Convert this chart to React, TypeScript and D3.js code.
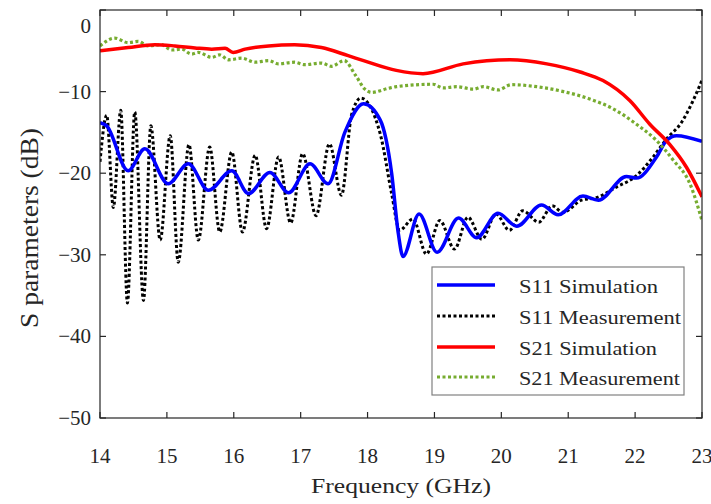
import React from "react";
import * as d3 from "d3";

const xTicks = [14, 15, 16, 17, 18, 19, 20, 21, 22, 23];
const yTicks = [0, -10, -20, -30, -40, -50];

const s11MeasFreq = [14.0, 14.1, 14.2, 14.31, 14.41, 14.52, 14.65, 14.76, 14.9, 15.05, 15.17, 15.33, 15.47, 15.64, 15.79, 15.97, 16.13, 16.32, 16.49, 16.67, 16.85, 17.03, 17.23, 17.43, 17.61, 17.76, 17.9, 18.19, 18.36, 18.48, 18.68, 18.88, 19.08, 19.3, 19.5, 19.71, 19.92, 20.12, 20.32, 20.56, 20.76, 20.92, 21.2, 21.42, 21.72, 22.02, 22.27, 22.47, 22.7, 22.85, 23.0];
const s11MeasVal = [-18.6, -12.9, -24.2, -12.3, -35.9, -12.5, -35.6, -14.2, -28.2, -15.4, -30.9, -16.5, -28.2, -16.8, -27.2, -17.4, -27.2, -17.8, -26.8, -18.0, -26.1, -17.6, -25.2, -16.4, -22.7, -12.9, -10.8, -15.2, -22.5, -27.0, -25.6, -29.9, -25.8, -29.3, -25.4, -28.1, -25.0, -27.0, -24.6, -26.0, -24.0, -24.8, -23.3, -23.0, -21.7, -20.3, -18.0, -15.8, -13.7, -11.4, -8.6];

const s11SimFreq = [14.0, 14.1, 14.42, 14.67, 15.02, 15.32, 15.62, 15.97, 16.22, 16.54, 16.82, 17.14, 17.41, 17.66, 17.94, 18.19, 18.36, 18.46, 18.53, 18.77, 19.04, 19.36, 19.63, 19.95, 20.23, 20.6, 20.85, 21.22, 21.45, 21.87, 22.02, 22.32, 22.47, 22.62, 23.0];
const s11SimVal = [-13.8, -14.2, -19.7, -17.0, -21.3, -18.85, -22.1, -19.7, -22.5, -19.9, -22.4, -18.85, -21.3, -15.0, -11.5, -13.5, -20.0, -27.4, -30.2, -25.0, -29.7, -25.5, -27.9, -24.9, -26.5, -23.9, -25.1, -22.8, -23.3, -20.4, -20.6, -18.0, -16.0, -15.4, -16.1];

const s21SimFreq = [14.0, 14.42, 14.82, 15.12, 15.42, 15.67, 15.87, 15.99, 16.17, 16.52, 16.91, 17.31, 17.71, 17.94, 18.43, 18.83, 19.43, 20.13, 20.68, 21.18, 21.52, 21.92, 22.22, 22.52, 22.77, 23.0];
const s21SimVal = [-5.0, -4.6, -4.25, -4.4, -4.65, -4.8, -4.7, -5.2, -4.8, -4.4, -4.25, -4.6, -5.6, -6.2, -7.4, -7.8, -6.6, -6.1, -6.6, -7.6, -8.65, -11.1, -14.0, -16.5, -19.3, -22.9];

const s21MeasFreq = [14.0, 14.22, 14.42, 14.57, 14.72, 14.92, 15.07, 15.22, 15.37, 15.47, 15.67, 15.79, 15.92, 16.12, 16.32, 16.52, 16.67, 16.91, 17.06, 17.31, 17.46, 17.65, 17.82, 17.96, 18.06, 18.31, 18.43, 18.98, 19.13, 19.33, 19.58, 19.73, 19.95, 20.15, 20.53, 20.93, 21.32, 21.67, 22.02, 22.32, 22.57, 22.82, 23.0];
const s21MeasVal = [-4.4, -3.45, -4.0, -3.85, -4.4, -4.25, -4.9, -4.8, -5.4, -5.2, -5.8, -5.5, -6.1, -5.9, -6.4, -6.2, -6.6, -6.4, -6.7, -6.5, -6.9, -6.2, -8.0, -9.7, -10.1, -9.6, -9.4, -9.1, -9.55, -9.4, -9.7, -9.4, -9.8, -9.15, -9.4, -10.0, -10.9, -12.1, -14.0, -16.0, -18.4, -21.3, -25.8];

const legendLabels = ["S11 Simulation", "S11 Measurement", "S21 Simulation", "S21 Measurement"];
const legendWidths = [139, 162, 138, 161];

const W = 711, H = 504;
const L = 100, R = 702, T = 10, B = 418;

export default function App() {
  const x = d3.scaleLinear().domain([14, 23]).range([L, R]);
  const y = d3.scaleLinear().domain([-50, 0]).range([B, T]);
  const mk = (f: number[], v: number[]) =>
    d3.line<number>().x((_, i) => x(f[i])).y((d) => y(d)).curve(d3.curveMonotoneX)(v) || "";

  const series = [
    { d: mk(s11SimFreq, s11SimVal), stroke: "#0000ff", width: 3.5, dash: undefined },
    { d: mk(s11MeasFreq, s11MeasVal), stroke: "#000000", width: 3, dash: "3 2.5" },
    { d: mk(s21SimFreq, s21SimVal), stroke: "#ff0000", width: 3.5, dash: undefined },
    { d: mk(s21MeasFreq, s21MeasVal), stroke: "#77ac30", width: 3.2, dash: "3 2.5" },
  ];
  const drawOrder = [1, 0, 3, 2];
  const fontStyle = { fontFamily: "Liberation Serif" };
  const axisColor = "#262626";
  const tickLen = 6;
  const rows = [285, 316, 347, 377];

  return (
    <svg width={W} height={H} style={{ position: "absolute", left: 0, top: 0, background: "#fff" }}>
      <defs>
        <clipPath id="plot">
          <rect x={L} y={T} width={R - L} height={B - T} />
        </clipPath>
      </defs>
      <rect x={0} y={0} width={W} height={H} fill="#fff" />
      <g clipPath="url(#plot)">
        {drawOrder.map((i) => (
          <path key={i} d={series[i].d} fill="none" stroke={series[i].stroke} strokeWidth={series[i].width}
            strokeDasharray={series[i].dash} strokeLinejoin="round" />
        ))}
      </g>
      <rect x={L} y={T} width={R - L} height={B - T} fill="none" stroke={axisColor} strokeWidth={1.2} />
      {xTicks.map((t) => (
        <g key={"x" + t}>
          <line x1={x(t)} x2={x(t)} y1={B} y2={B - tickLen} stroke={axisColor} strokeWidth={1.2} />
          <line x1={x(t)} x2={x(t)} y1={T} y2={T + tickLen} stroke={axisColor} strokeWidth={1.2} />
          <text x={x(t)} y={463} fontSize={21} textAnchor="middle" fill="#262626" style={fontStyle}>{t}</text>
        </g>
      ))}
      {yTicks.map((t) => (
        <g key={"y" + t}>
          <line x1={L} x2={L + tickLen} y1={y(t)} y2={y(t)} stroke={axisColor} strokeWidth={1.2} />
          <line x1={R} x2={R - tickLen} y1={y(t)} y2={y(t)} stroke={axisColor} strokeWidth={1.2} />
          <text x={91} y={Math.max(y(t), T + 16) + 7} fontSize={21} textAnchor="end" fill="#262626" style={fontStyle}>
            {t < 0 ? "\u2212" + Math.abs(t) : String(t)}
          </text>
        </g>
      ))}
      <text x={(L + R) / 2} y={493} fontSize={22} textAnchor="middle" textLength={180} lengthAdjust="spacingAndGlyphs" fill="#262626" style={fontStyle}>
        Frequency (GHz)
      </text>
      <text transform={`translate(38,${228}) rotate(-90)`} fontSize={26} textAnchor="middle" textLength={200} lengthAdjust="spacingAndGlyphs" fill="#262626" style={fontStyle}>
        S parameters (dB)
      </text>
      <g>
        <rect x={432} y={267} width={252} height={128} fill="#fff" stroke="#808080" strokeWidth={1.2} />
        {legendLabels.map((lab, i) => (
          <g key={lab}>
            <line x1={437} x2={495} y1={rows[i]} y2={rows[i]} stroke={series[i].stroke} strokeWidth={series[i].width}
              strokeDasharray={series[i].dash} />
            <text x={519} y={rows[i] + 8} fontSize={19.5} textLength={legendWidths[i]} lengthAdjust="spacingAndGlyphs" fill="#262626" style={fontStyle}>
              {lab}
            </text>
          </g>
        ))}
      </g>
    </svg>
  );
}
